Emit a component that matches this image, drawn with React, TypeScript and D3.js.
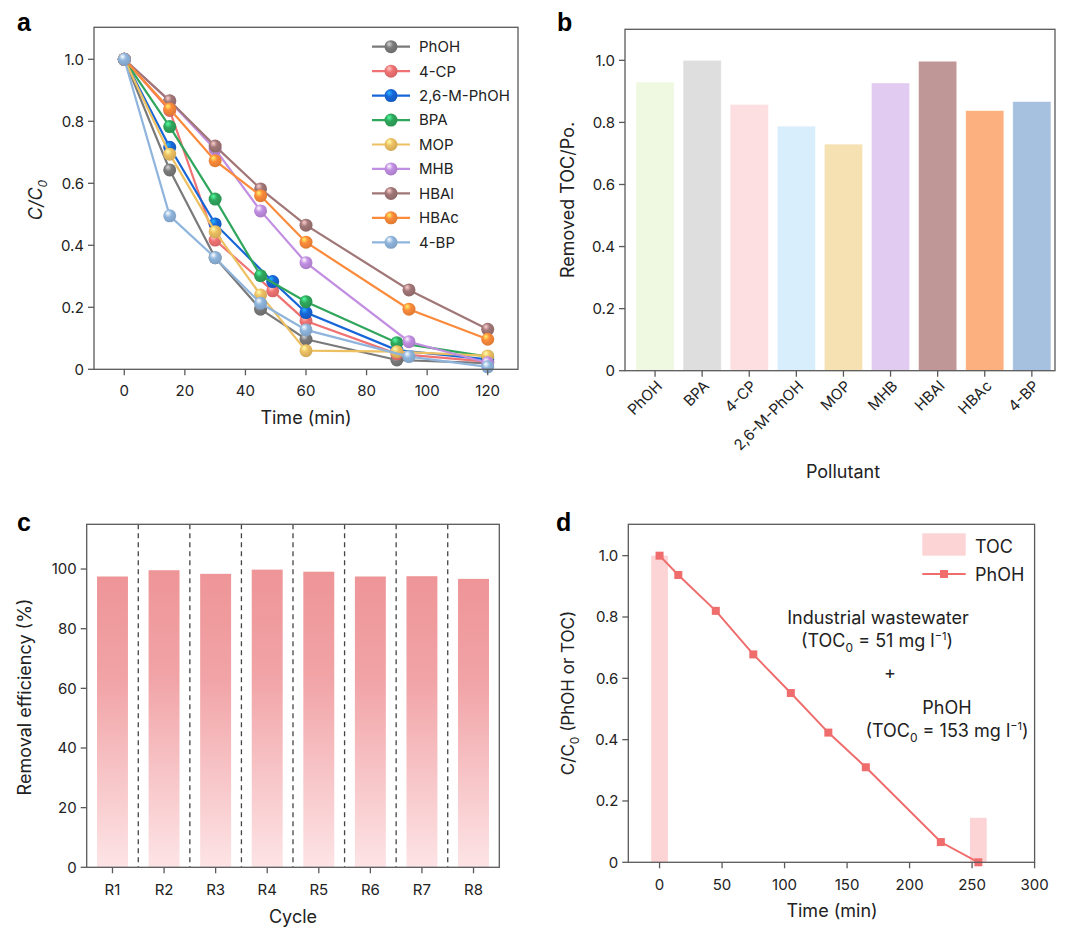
import React from "react";
import * as d3 from "d3";

const FONT = "Inter, 'Noto Sans', 'DejaVu Sans', sans-serif";
const AX = "#5a5a5a";
const TXT = "#222";

// ---------- Panel a data ----------
const seriesNames = ["PhOH", "4-CP", "2,6-M-PhOH", "BPA", "MOP", "MHB", "HBAl", "HBAc", "4-BP"];
const seriesColors = ["#7a7a7a", "#f07272", "#1766d8", "#2fa65c", "#edc062", "#c18ee2", "#a17676", "#fb8a3a", "#8fb5dd"];
const phohTime = [0, 15, 30, 45, 60, 90, 120];
const phohVal = [1, 0.643, 0.36, 0.194, 0.097, 0.03, 0.02];
const cpTime = [0, 15, 30, 49, 60, 90, 120];
const cpVal = [1, 0.835, 0.417, 0.253, 0.156, 0.05, 0.025];
const dmTime = [0, 15, 30, 49, 60, 90, 120];
const dmVal = [1, 0.716, 0.469, 0.283, 0.183, 0.062, 0.032];
const bpaTime = [0, 15, 30, 45, 60, 90, 120];
const bpaVal = [1, 0.783, 0.549, 0.302, 0.218, 0.086, 0.041];
const mopTime = [0, 15, 30, 45, 60, 90, 120];
const mopVal = [1, 0.694, 0.444, 0.24, 0.06, 0.057, 0.043];
const mhbTime = [0, 15, 30, 45, 60, 94, 120];
const mhbVal = [1, 0.865, 0.71, 0.511, 0.344, 0.089, 0.021];
const hbalTime = [0, 15, 30, 45, 60, 94, 120];
const hbalVal = [1, 0.866, 0.72, 0.582, 0.465, 0.256, 0.129];
const hbacTime = [0, 15, 30, 45, 60, 94, 120];
const hbacVal = [1, 0.84, 0.673, 0.56, 0.41, 0.194, 0.097];
const bpTime = [0, 15, 30, 45, 60, 94, 120];
const bpVal = [1, 0.495, 0.36, 0.213, 0.127, 0.041, 0.008];
const aTimes = [phohTime, cpTime, dmTime, bpaTime, mopTime, mhbTime, hbalTime, hbacTime, bpTime];
const aVals = [phohVal, cpVal, dmVal, bpaVal, mopVal, mhbVal, hbalVal, hbacVal, bpVal];
const aXTicks = [0, 20, 40, 60, 80, 100, 120];
const aYTicks = [0, 0.2, 0.4, 0.6, 0.8, 1.0];

// ---------- Panel b data ----------
const bCategories = ["PhOH", "BPA", "4-CP", "2,6-M-PhOH", "MOP", "MHB", "HBAl", "HBAc", "4-BP"];
const bValues = [0.93, 1.0, 0.858, 0.788, 0.73, 0.927, 0.997, 0.838, 0.867];
const bColors = ["#eff9e1", "#dedede", "#fddfe2", "#d9eefc", "#f5e1b2", "#e1cbf0", "#bf9797", "#fdb07f", "#a6c1df"];
const bYTicks = [0, 0.2, 0.4, 0.6, 0.8, 1.0];

// ---------- Panel c data ----------
const cCycles = ["R1", "R2", "R3", "R4", "R5", "R6", "R7", "R8"];
const cValues = [97.5, 99.6, 98.4, 99.8, 99.1, 97.5, 97.6, 96.7];
const cYTicks = [0, 20, 40, 60, 80, 100];

// ---------- Panel d data ----------
const dTime = [0, 15, 45, 75, 105, 135, 165, 225, 255];
const dPhOH = [1.0, 0.937, 0.82, 0.678, 0.552, 0.423, 0.31, 0.066, 0.0];
const dTocTime = [0, 255];
const dTocVal = [1.0, 0.145];
const dXTicks = [0, 50, 100, 150, 200, 250, 300];
const dYTicks = [0, 0.2, 0.4, 0.6, 0.8, 1.0];

const fmt1 = (v: number) => (v === 0 ? "0" : v.toFixed(1));

function Frame({ x0, x1, y0, y1 }: { x0: number; x1: number; y0: number; y1: number }) {
  return <rect x={x0} y={y0} width={x1 - x0} height={y1 - y0} fill="none" stroke={AX} strokeWidth={1.3} />;
}

function YAxis({ scale, ticks, x, fmt }: { scale: any; ticks: number[]; x: number; fmt: (v: number) => string }) {
  return (
    <g>
      {ticks.map((t) => (
        <g key={t}>
          <line x1={x - 6} x2={x} y1={scale(t)} y2={scale(t)} stroke={AX} strokeWidth={1.3} />
          <text x={x - 10} y={scale(t)} dy="0.35em" textAnchor="end" fontSize={15} fill={TXT} fontFamily={FONT}>
            {fmt(t)}
          </text>
        </g>
      ))}
    </g>
  );
}

function XAxisLin({ scale, ticks, y, labelY }: { scale: any; ticks: number[]; y: number; labelY: number }) {
  return (
    <g>
      {ticks.map((t) => (
        <g key={t}>
          <line x1={scale(t)} x2={scale(t)} y1={y} y2={y + 6} stroke={AX} strokeWidth={1.3} />
          <text x={scale(t)} y={labelY} textAnchor="middle" fontSize={15} fill={TXT} fontFamily={FONT}>
            {t}
          </text>
        </g>
      ))}
    </g>
  );
}

export default function App() {
  // Panel a
  const ax = d3.scaleLinear().domain([-10, 130]).range([94, 518]);
  const ay = d3.scaleLinear().domain([0, 1.1]).range([369.3, 28.3]);
  const line = d3.line<[number, number]>().x((d) => ax(d[0])).y((d) => ay(d[1]));

  // Panel b
  const bx = d3.scaleBand<string>().domain(bCategories).range([631.5, 1055.4]).paddingInner(0.19).paddingOuter(0.095);
  const by = d3.scaleLinear().domain([0, 1.1]).range([370.7, 29.3]);

  // Panel c
  const cx = d3.scaleBand<string>().domain(cCycles).range([86.7, 499.3]).paddingInner(0.4).paddingOuter(0.2);
  const cy = d3.scaleLinear().domain([0, 115]).range([867.3, 524.3]);

  // Panel d
  const dx = d3.scaleLinear().domain([-25, 300]).range([628.3, 1034.6]);
  const dy = d3.scaleLinear().domain([0, 1.1]).range([862.3, 525]);
  const dLine = d3.line<number>().x((_, i) => dx(dTime[i])).y((v) => dy(v));
  const tocW = dx(6.7) - dx(-6.7);

  const legendX = 372;
  const legendY0 = 46.7;
  const legendStep = 24.45;

  return (
    <svg width={1080} height={935} style={{ position: "absolute", left: 0, top: 0, background: "#fff" }}>
      <defs>
        {seriesColors.map((c, i) => {
          const col = d3.color(c)!;
          return (
            <radialGradient key={i} id={`sph${i}`} cx="0.42" cy="0.38" r="0.62" fx="0.35" fy="0.28">
              <stop offset="0" stopColor={col.brighter(1.6).formatHex()} />
              <stop offset="0.45" stopColor={c} />
              <stop offset="1" stopColor={col.darker(0.35).formatHex()} />
            </radialGradient>
          );
        })}
        <linearGradient id="cgrad" x1="0" y1="0" x2="0" y2="1">
          <stop offset="0" stopColor="#ee9598" />
          <stop offset="0.35" stopColor="#f1a3a6" />
          <stop offset="1" stopColor="#fde4e6" />
        </linearGradient>
      </defs>

      {/* ================= Panel a ================= */}
      <text x={17} y={31} fontSize={25} fontWeight="bold" fontFamily="Arial, 'Liberation Sans', sans-serif" fill="#000">a</text>
      {aTimes.map((ts, si) => {
        const pts = ts.map((t, i) => [t, aVals[si][i]] as [number, number]);
        return (
          <g key={si}>
            <path d={line(pts) || ""} fill="none" stroke={seriesColors[si]} strokeWidth={2.2} />
            {pts.map((p, i) => (
              <circle key={i} cx={ax(p[0])} cy={ay(p[1])} r={6.5} fill={`url(#sph${si})`} />
            ))}
          </g>
        );
      })}
      <Frame x0={94} x1={518} y0={27.3} y1={369.3} />
      <YAxis scale={ay} ticks={aYTicks} x={94} fmt={fmt1} />
      <XAxisLin scale={ax} ticks={aXTicks} y={369.3} labelY={396} />
      <text x={306} y={424} textAnchor="middle" fontSize={18} fill={TXT} fontFamily={FONT}>Time (min)</text>
      <text transform="translate(42,200) rotate(-90)" textAnchor="middle" fontSize={18} fill={TXT} fontFamily={FONT} fontStyle="italic">
        C/C<tspan fontSize={12} dy={5}>0</tspan>
      </text>
      {seriesNames.map((n, i) => {
        const yy = legendY0 + i * legendStep;
        return (
          <g key={n}>
            <line x1={legendX} x2={legendX + 38} y1={yy} y2={yy} stroke={seriesColors[i]} strokeWidth={2.2} />
            <circle cx={legendX + 19} cy={yy} r={6.5} fill={`url(#sph${i})`} />
            <text x={419} y={yy} dy="0.36em" fontSize={15} fill={TXT} fontFamily={FONT}>{n}</text>
          </g>
        );
      })}

      {/* ================= Panel b ================= */}
      <text x={557} y={31} fontSize={25} fontWeight="bold" fontFamily="Arial, 'Liberation Sans', sans-serif" fill="#000">b</text>
      {bCategories.map((c, i) => (
        <rect key={c} x={bx(c)} y={by(bValues[i])} width={bx.bandwidth()} height={by(0) - by(bValues[i])} fill={bColors[i]} stroke="#ffffff" strokeOpacity={0.5} strokeWidth={0.8} />
      ))}
      <Frame x0={625} x1={1055} y0={29.3} y1={370.7} />
      <YAxis scale={by} ticks={bYTicks} x={625} fmt={fmt1} />
      {bCategories.map((c) => {
        const xc = (bx(c) as number) + bx.bandwidth() / 2;
        return (
          <g key={c}>
            <line x1={xc} x2={xc} y1={370.7} y2={376.7} stroke={AX} strokeWidth={1.3} />
            <text transform={`translate(${xc + 8},${387}) rotate(-45)`} textAnchor="end" fontSize={15} fill={TXT} fontFamily={FONT}>{c}</text>
          </g>
        );
      })}
      <text x={843} y={478} textAnchor="middle" fontSize={18} fill={TXT} fontFamily={FONT}>Pollutant</text>
      <text transform="translate(574,200) rotate(-90)" textAnchor="middle" fontSize={18} fill={TXT} fontFamily={FONT}>Removed TOC/Po.</text>

      {/* ================= Panel c ================= */}
      <text x={17} y={531} fontSize={25} fontWeight="bold" fontFamily="Arial, 'Liberation Sans', sans-serif" fill="#000">c</text>
      {cCycles.map((c, i) => (
        <rect key={c} x={cx(c)} y={cy(cValues[i])} width={cx.bandwidth()} height={cy(0) - cy(cValues[i])} fill="url(#cgrad)" />
      ))}
      {cCycles.slice(1).map((c) => {
        const xb = (cx(c) as number) - (cx.step() * cx.paddingInner()) / 2;
        return <line key={c} x1={xb} x2={xb} y1={524.3} y2={867.3} stroke="#444" strokeWidth={1.3} strokeDasharray="5,4" />;
      })}
      <Frame x0={86.7} x1={499.3} y0={524.3} y1={867.3} />
      <YAxis scale={cy} ticks={cYTicks} x={86.7} fmt={(v) => String(v)} />
      {cCycles.map((c) => {
        const xc = (cx(c) as number) + cx.bandwidth() / 2;
        return (
          <g key={c}>
            <line x1={xc} x2={xc} y1={867.3} y2={873.3} stroke={AX} strokeWidth={1.3} />
            <text x={xc} y={895} textAnchor="middle" fontSize={15} fill={TXT} fontFamily={FONT}>{c}</text>
          </g>
        );
      })}
      <text x={293} y={923} textAnchor="middle" fontSize={18} fill={TXT} fontFamily={FONT}>Cycle</text>
      <text transform="translate(31,697) rotate(-90)" textAnchor="middle" fontSize={18} fill={TXT} fontFamily={FONT}>Removal efficiency (%)</text>

      {/* ================= Panel d ================= */}
      <text x={556} y={531} fontSize={25} fontWeight="bold" fontFamily="Arial, 'Liberation Sans', sans-serif" fill="#000">d</text>
      {dTocTime.map((t, i) => (
        <rect key={t} x={dx(t) - tocW / 2} y={dy(dTocVal[i])} width={tocW} height={dy(0) - dy(dTocVal[i])} fill="#fdd4d5" />
      ))}
      <path d={dLine(dPhOH) || ""} fill="none" stroke="#ef6d6d" strokeWidth={2} />
      {dPhOH.map((v, i) => (
        <rect key={i} x={dx(dTime[i]) - 4} y={dy(v) - 4} width={8} height={8} fill="#ef6d6d" />
      ))}
      <Frame x0={628.3} x1={1034.6} y0={524.3} y1={862.3} />
      <YAxis scale={dy} ticks={dYTicks} x={628.3} fmt={fmt1} />
      <XAxisLin scale={dx} ticks={dXTicks} y={862.3} labelY={890} />
      <text x={832} y={917} textAnchor="middle" fontSize={18} fill={TXT} fontFamily={FONT}>Time (min)</text>
      <text transform="translate(574,693) rotate(-90)" textAnchor="middle" fontSize={17} fill={TXT} fontFamily={FONT}>
        C/C<tspan fontSize={12} dy={5}>0</tspan><tspan dy={-5}> (PhOH or TOC)</tspan>
      </text>
      {/* legend */}
      <rect x={922.3} y={533.3} width={43.4} height={22.4} fill="#fdd4d5" />
      <text x={975} y={552.5} fontSize={18} fill={TXT} fontFamily={FONT}>TOC</text>
      <line x1={922.3} x2={965.7} y1={574} y2={574} stroke="#ef6d6d" strokeWidth={2} />
      <rect x={940} y={570} width={8} height={8} fill="#ef6d6d" />
      <text x={975} y={580.5} fontSize={18} fill={TXT} fontFamily={FONT}>PhOH</text>
      {/* annotations */}
      <text x={878} y={624} textAnchor="middle" fontSize={18} fill={TXT} fontFamily={FONT}>Industrial wastewater</text>
      <text x={877} y={647} textAnchor="middle" fontSize={18} fill={TXT} fontFamily={FONT}>
        (TOC<tspan fontSize={12} dy={5}>0</tspan><tspan dy={-5}> = 51 mg l</tspan><tspan fontSize={11} dy={-7}>−1</tspan><tspan dy={7}>)</tspan>
      </text>
      <text x={890} y={679} textAnchor="middle" fontSize={18} fill={TXT} fontFamily={FONT}>+</text>
      <text x={947} y={714} textAnchor="middle" fontSize={18} fill={TXT} fontFamily={FONT}>PhOH</text>
      <text x={947} y={737} textAnchor="middle" fontSize={18} fill={TXT} fontFamily={FONT}>
        (TOC<tspan fontSize={12} dy={5}>0</tspan><tspan dy={-5}> = 153 mg l</tspan><tspan fontSize={11} dy={-7}>−1</tspan><tspan dy={7}>)</tspan>
      </text>
    </svg>
  );
}
